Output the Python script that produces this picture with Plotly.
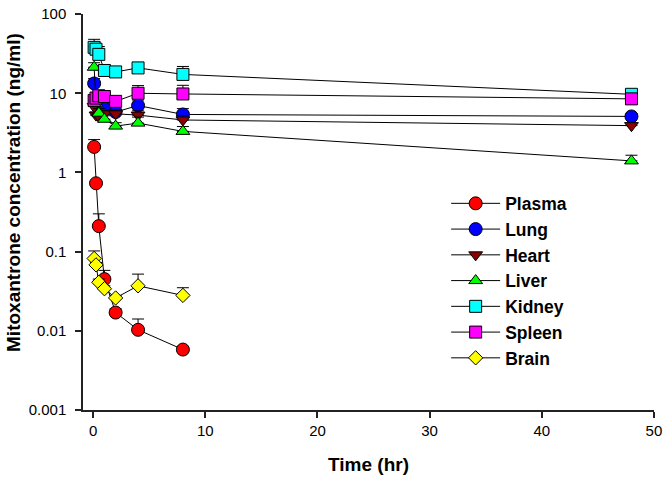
import plotly.graph_objects as go

# Time points (hr)
t_plasma = [0.083, 0.25, 0.5, 1, 2, 4, 8]
t_tissue = [0.083, 0.25, 0.5, 1, 2, 4, 8, 48]
t_brain = [0.083, 0.25, 0.5, 1, 2, 4, 8]

# Concentrations (ng/ml)
plasma = [2.1, 0.73, 0.21, 0.045, 0.017, 0.0103, 0.0058]
lung = [13.3, 8.5, 7.2, 6.4, 5.8, 7.0, 5.4, 5.1]
heart = [6.8, 5.3, 5.1, 5.5, 5.5, 5.3, 4.6, 3.9]
liver = [21.3, 7.5, 5.6, 4.7, 3.85, 4.2, 3.3, 1.4]
kidney = [38.0, 36.0, 31.0, 19.4, 18.6, 20.9, 17.3, 9.7]
spleen = [8.1, 8.7, 9.3, 9.1, 7.9, 10.0, 9.8, 8.5]
brain = [0.082, 0.068, 0.041, 0.034, 0.026, 0.037, 0.028]

# Upper error bars (SD)
plasma_err = [0.5, 0.05, 0.09, 0.013, 0.002, 0.0038, 0.0005]
lung_err = [2.0, 1.0, 1.0, 0.8, 0.5, 1.2, 1.0, 0.4]
heart_err = [1.0, 0.5, 0.5, 0.5, 0.6, 0.7, 0.6, 0.3]
liver_err = [3.0, 1.0, 0.8, 0.5, 0.4, 0.8, 0.5, 0.25]
kidney_err = [10.0, 5.0, 8.0, 2.0, 1.0, 2.0, 4.5, 1.2]
spleen_err = [1.0, 1.0, 1.0, 1.0, 0.8, 2.5, 2.8, 0.8]
brain_err = [0.02, 0.005, 0.004, 0.003, 0.002, 0.015, 0.007]

series = [
    ("Plasma", t_plasma, plasma, plasma_err, "#FF0000", "circle", 13),
    ("Lung", t_tissue, lung, lung_err, "#0000FF", "circle", 13),
    ("Heart", t_tissue, heart, heart_err, "#8B0000", "triangle-down", 12),
    ("Liver", t_tissue, liver, liver_err, "#00FF00", "triangle-up", 12),
    ("Kidney", t_tissue, kidney, kidney_err, "#00FFFF", "square", 12),
    ("Spleen", t_tissue, spleen, spleen_err, "#FF00FF", "square", 12),
    ("Brain", t_brain, brain, brain_err, "#FFFF00", "diamond", 11),
]

fig = go.Figure()
for name, t, y, e, color, sym, size in series:
    fig.add_trace(go.Scatter(
        x=t, y=y, name=name, mode="lines+markers",
        line=dict(color="black", width=1),
        marker=dict(symbol=sym, size=size, color=color,
                    line=dict(color="black", width=1)),
        error_y=dict(type="data", symmetric=False, array=e,
                     arrayminus=[0] * len(e), color="black",
                     thickness=1, width=6),
    ))

font_family = "Liberation Sans, Arial, sans-serif"
fig.update_layout(
    width=667, height=477,
    margin=dict(l=83, r=9, t=5, b=67),
    paper_bgcolor="white", plot_bgcolor="white",
    font=dict(family=font_family, color="black", size=15),
    showlegend=True,
    legend=dict(
        x=0.636, y=0.567, xanchor="left", yanchor="top",
        bgcolor="rgba(0,0,0,0)", borderwidth=0,
        font=dict(family=font_family, size=17.5, weight="bold"),
        itemwidth=49,
    ),
    xaxis=dict(
        range=[-0.91, 50.01], showgrid=False, zeroline=False,
        showline=True, linecolor="#222", linewidth=1.5,
        ticks="outside", ticklen=6, tickcolor="#222", tickwidth=1.5,
        tickvals=[0, 10, 20, 30, 40, 50],
        tickfont=dict(size=15),
        ticklabeloverflow="allow",
        title=dict(text="Time (hr)", font=dict(size=19, weight="bold"), standoff=20),
    ),
    yaxis=dict(
        type="log", range=[-3, 2.001], showgrid=False, zeroline=False,
        showline=True, linecolor="#222", linewidth=1.5,
        ticks="outside", ticklen=6, tickcolor="#222", tickwidth=1.5,
        tickvals=[0.001, 0.01, 0.1, 1, 10, 100],
        ticktext=["0.001", "0.01", "0.1", "1", "10", "100"],
        tickfont=dict(size=15),
        ticklabeloverflow="allow",
        ticklabelstandoff=6,
    ),
    annotations=[dict(
        text="<b>Mitoxantrone concentration (ng/ml)</b>",
        textangle=-90, xref="paper", yref="paper",
        x=-0.123, y=0.55, xanchor="center", yanchor="middle",
        showarrow=False, font=dict(size=19, family=font_family),
    )],
)

fig.write_html("out.html", config={"displayModeBar": False},
               post_script="document.body.style.margin='0';")
